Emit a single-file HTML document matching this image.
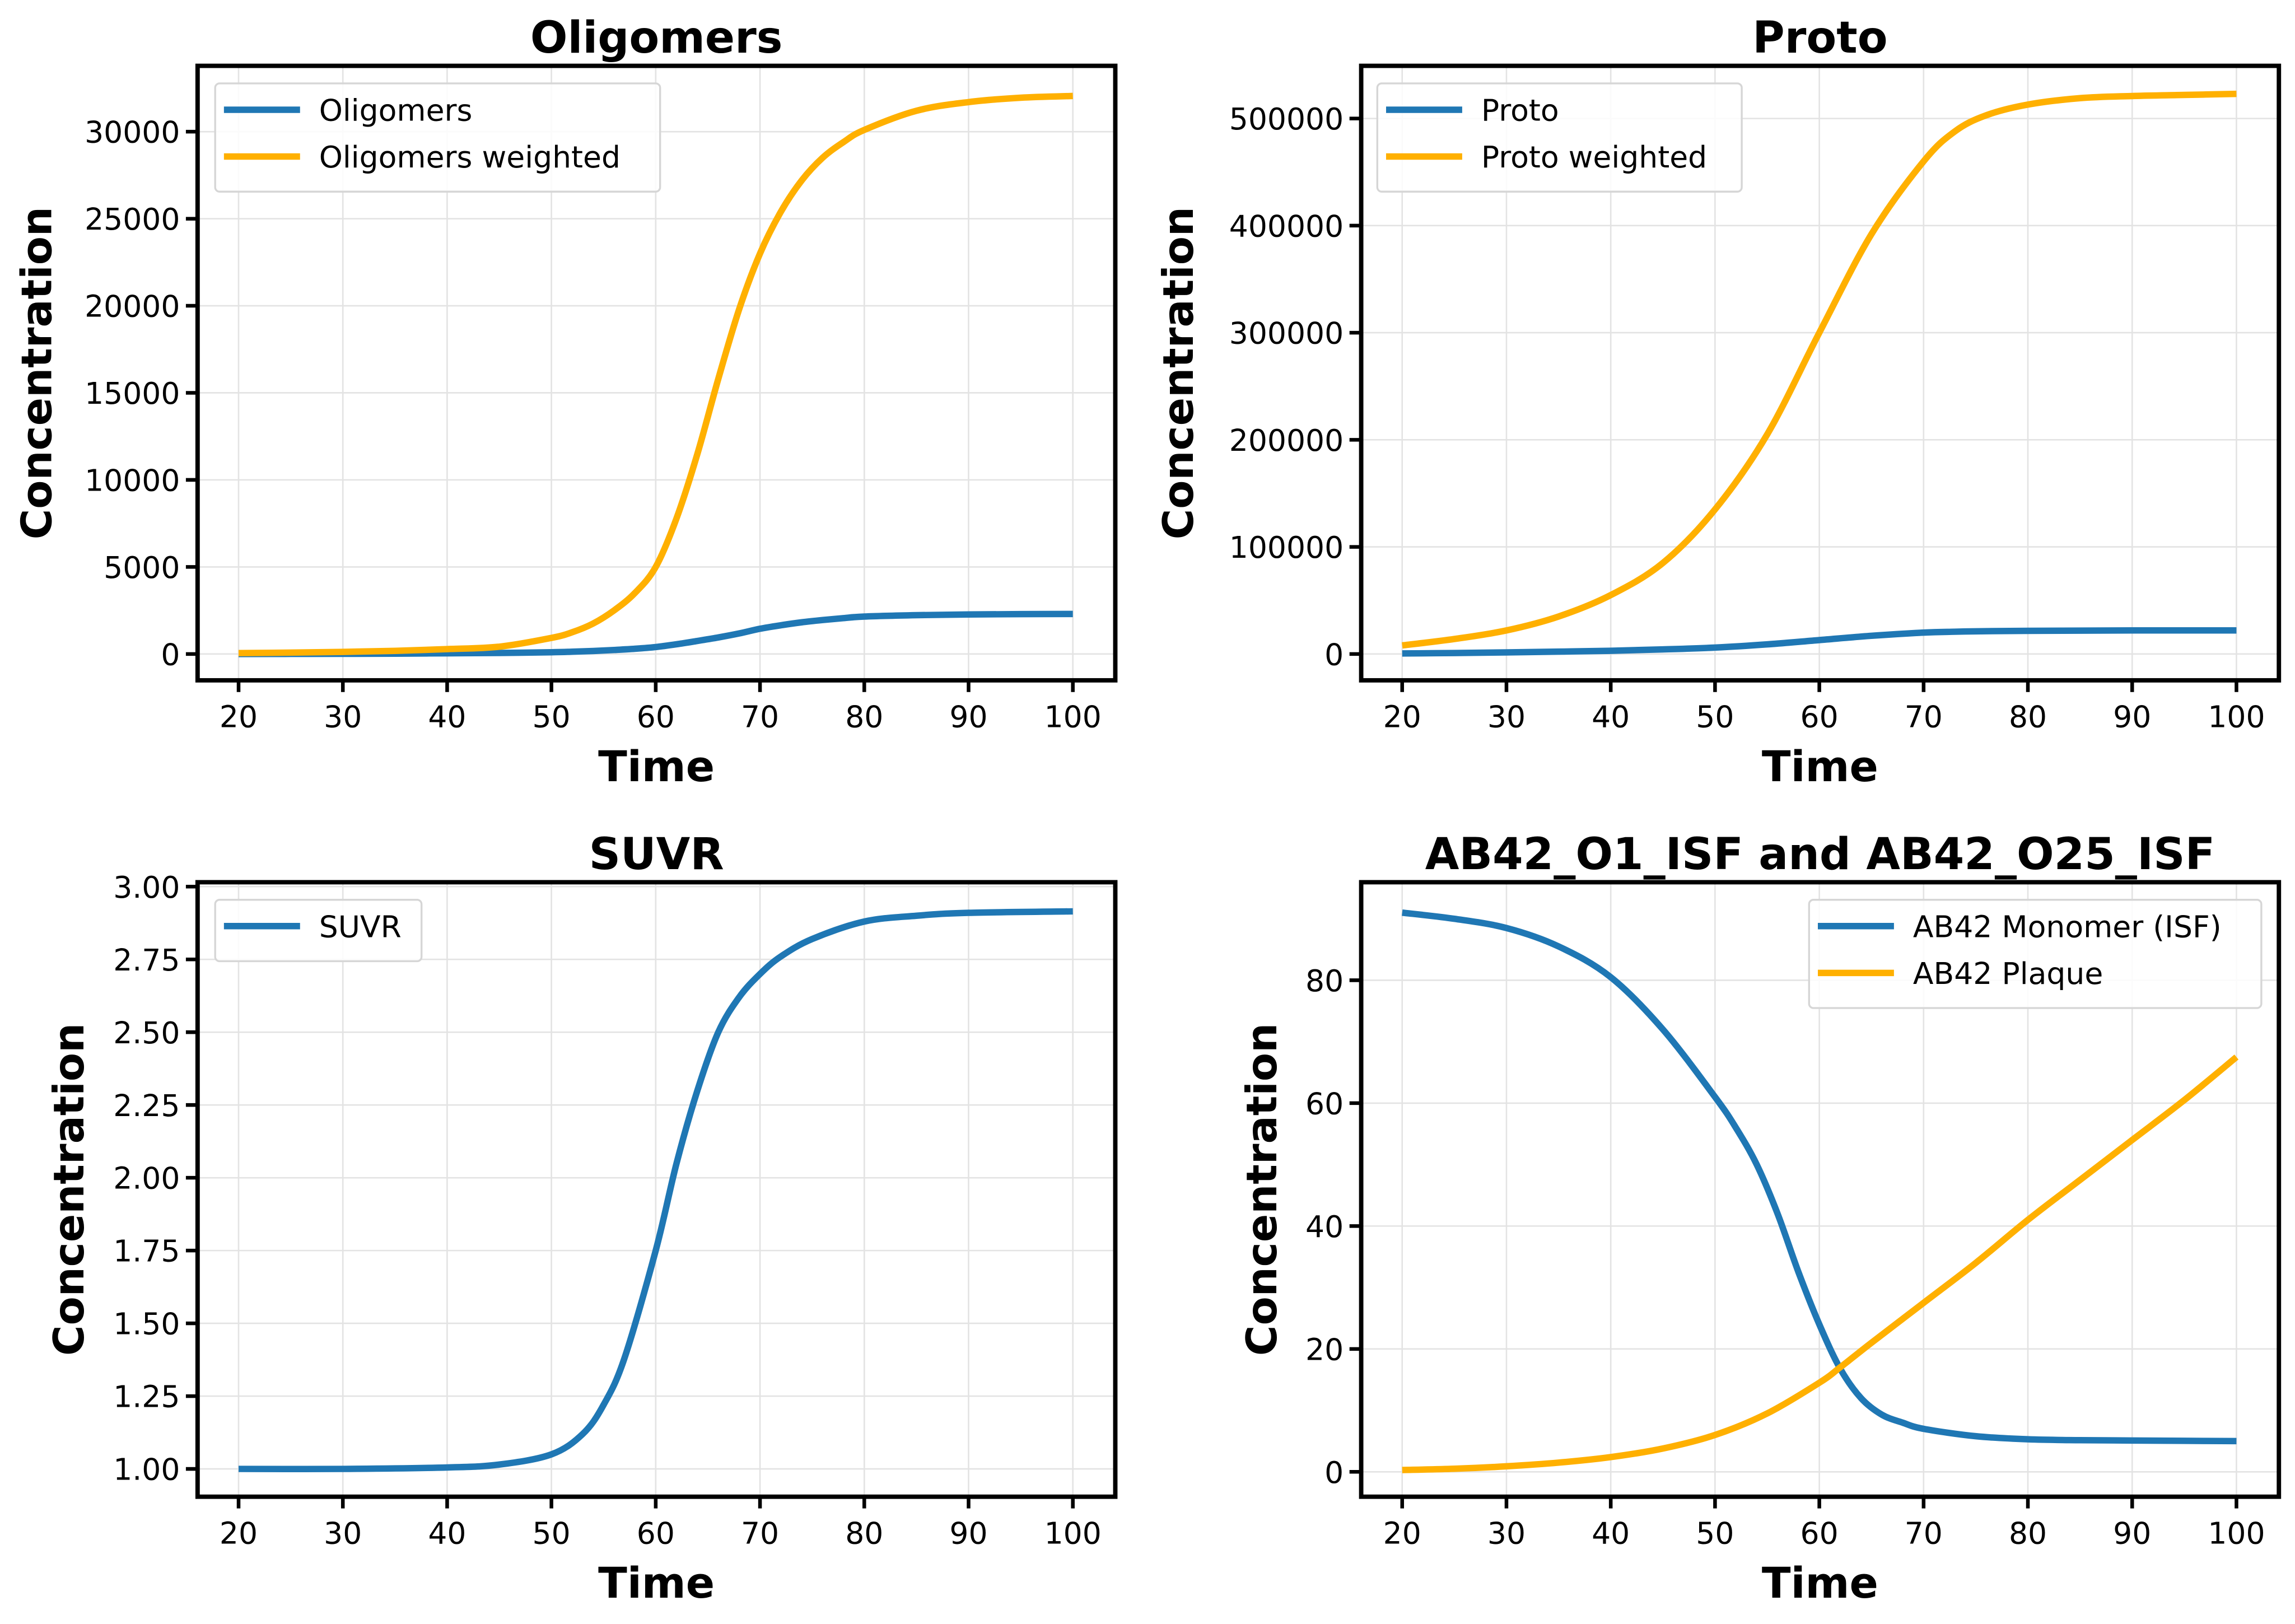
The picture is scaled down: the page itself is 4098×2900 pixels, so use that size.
<!DOCTYPE html>
<html><head><meta charset="utf-8"><style>
html,body{margin:0;padding:0;background:#fff;}
svg{display:block;}
text{font-family:"DejaVu Sans","Liberation Sans",sans-serif;}
</style></head><body>
<svg id="fig" width="4098" height="2900" viewBox="0 0 1568 1110" preserveAspectRatio="none" xmlns="http://www.w3.org/2000/svg"></svg>
<script>
// ---- data ----
const olT = [20,25,30,35,40,45,50,52,54,56,58,60,62,64,66,68,70,72,74,76,78,80,85,90,95,100];
const olW = [50,80,120,180,280,420,925,1250,1750,2500,3500,5000,7800,11500,15800,19800,23000,25400,27200,28500,29400,30100,31200,31700,31950,32050];
const olO = [0,5,10,20,40,60,100,130,170,230,300,400,560,750,950,1180,1450,1650,1820,1950,2060,2150,2230,2270,2290,2300];
const prT = [20,25,30,35,40,45,50,55,60,65,70,73,76,80,85,90,95,100];
const prW = [8000,14000,22000,35000,55000,85000,135000,205000,300000,392000,460000,488000,503000,513000,519000,521000,522000,523000];
const prP = [500,900,1500,2200,3000,4300,6000,9000,13000,17000,20000,20800,21300,21600,21800,22000,22000,22000];
const suT = [20,30,40,45,50,53,55,57,60,62,64,66,68,70,72,75,80,85,90,100];
const suV = [1.0,1.0,1.005,1.015,1.05,1.12,1.22,1.38,1.75,2.05,2.3,2.5,2.62,2.7,2.76,2.82,2.88,2.9,2.91,2.915];
const abT = [20,25,30,35,40,45,50,52,54,56,58,60,62,64,66,68,70,75,80,85,90,95,100];
const abM = [91,90,88.5,85.5,80.5,72,61,56,50,42,32.5,24,16.8,12,9.3,8,7,5.8,5.3,5.15,5.1,5.05,5.0];
const abPt = [20,25,30,35,40,45,50,55,60,62,65,70,75,80,85,90,95,100];
const abP = [0.3,0.5,0.9,1.5,2.4,3.8,6,9.5,14.5,17,21,27.5,34,41,47.5,54,60.5,67.5];
const xTicks = [20,30,40,50,60,70,80,90,100];
const olTicks = [0,5000,10000,15000,20000,25000,30000];
const prTicks = [0,100000,200000,300000,400000,500000];
const suTicks = [1.00,1.25,1.50,1.75,2.00,2.25,2.50,2.75,3.00];
const abTicks = [0,20,40,60,80];

const NS="http://www.w3.org/2000/svg";
const svg=document.getElementById('fig');
function el(tag,attrs,parent,txt){const e=document.createElementNS(NS,tag);for(const k in attrs)e.setAttribute(k,attrs[k]);if(txt!==undefined)e.textContent=txt;(parent||svg).appendChild(e);return e;}
function pathFrom(xs,ys){let d='';const n=xs.length;for(let i=0;i<n;i++){if(i===0){d+='M'+xs[0]+','+ys[0];continue;}
const x0=xs[Math.max(i-2,0)],y0=ys[Math.max(i-2,0)],x1=xs[i-1],y1=ys[i-1],x2=xs[i],y2=ys[i],x3=xs[Math.min(i+1,n-1)],y3=ys[Math.min(i+1,n-1)];
d+=' C'+(x1+(x2-x0)/6)+','+(y1+(y2-y0)/6)+' '+(x2-(x3-x1)/6)+','+(y2-(y3-y1)/6)+' '+x2+','+y2;}return d;}
const BLUE='#1f77b4',GOLD='#ffb000';
function panel(cfg){
  const g=el('g',{});
  
  
  const L=cfg.L,R=L+627,T=cfg.T,B=T+420;
  const x0=L+28,x1=L+598;
  const sx=t=>x0+(t-20)/80*(x1-x0);
  const sy=v=>cfg.y0px+(v-cfg.v0)/(cfg.v1-cfg.v0)*(cfg.y1px-cfg.y0px);
  xTicks.forEach(t=>{const l=el('line',{x1:sx(t),x2:sx(t),y1:T,y2:B,stroke:'#e3e3e3','stroke-width':1},g);});
  cfg.ticks.forEach(v=>{const l=el('line',{x1:L,x2:R,y1:sy(v),y2:sy(v),stroke:'#e3e3e3','stroke-width':1},g);});
  cfg.series.forEach(s=>{const p=el('path',{d:pathFrom(s.t.map(sx),s.v.map(sy)),fill:'none',stroke:s.c,'stroke-width':4.4,'stroke-linejoin':'round'},g);});
  const sp=el('rect',{x:L,y:T,width:627,height:420,fill:'none',stroke:'#000','stroke-width':3},g);
  
  xTicks.forEach(t=>{el('line',{x1:sx(t),x2:sx(t),y1:B,y2:B+8,stroke:'#000','stroke-width':2.5},g);
    const tx=el('text',{x:sx(t),y:B+32,'font-size':20.5,'text-anchor':'middle'},g,String(t));});
  cfg.ticks.forEach(v=>{el('line',{x1:L-8,x2:L,y1:sy(v),y2:sy(v),stroke:'#000','stroke-width':2.5},g);
    const tx=el('text',{x:L-12,y:sy(v)+7.5,'font-size':20.5,'text-anchor':'end'},g,cfg.fmt(v));});
  const ti=el('text',{x:(L+R)/2,y:T-9,'font-size':30,'font-weight':'bold','text-anchor':'middle'},g,cfg.title);
  const xl=el('text',{x:(L+R)/2,y:B+69,'font-size':29,'font-weight':'bold','text-anchor':'middle'},g,'Time');
  const yx=cfg.ylx,yy=(T+B)/2;
  const yl=el('text',{x:yx,y:yy,'font-size':28.5,'font-weight':'bold','text-anchor':'middle',transform:'rotate(-90 '+yx+' '+yy+')'},g,'Concentration');
  const lg=cfg.leg;
  const lgG=el('g',{},g);
  el('rect',{x:lg.x,y:lg.y,width:lg.w,height:10+cfg.series.length*32,rx:3,fill:'#fff','fill-opacity':0.85,stroke:'#d6d6d6','stroke-width':1.3},lgG);
  cfg.series.forEach((s,i)=>{const yy2=lg.y+18+i*32;
    el('line',{x1:lg.x+6,x2:lg.x+58,y1:yy2,y2:yy2,stroke:s.c,'stroke-width':4.4},lgG);
    const t=el('text',{x:lg.x+71,y:yy2+7.5,'font-size':20.5},lgG,s.label);});
}
panel({name:'oligomers-panel',L:135,T:45,title:'Oligomers',ylx:35,v0:0,v1:30000,y0px:447,y1px:90,ticks:olTicks,fmt:v=>String(v),
  series:[{t:olT,v:olO,c:BLUE,n:'oligomers-line',label:'Oligomers'},{t:olT,v:olW,c:GOLD,n:'oligomers-weighted-line',label:'Oligomers weighted'}],
  leg:{x:147,y:57,w:304}});
panel({name:'proto-panel',L:930,T:45,title:'Proto',ylx:815,v0:0,v1:500000,y0px:447,y1px:81,ticks:prTicks,fmt:v=>String(v),
  series:[{t:prT,v:prP,c:BLUE,n:'proto-line',label:'Proto'},{t:prT,v:prW,c:GOLD,n:'proto-weighted-line',label:'Proto weighted'}],
  leg:{x:941,y:57,w:249}});
panel({name:'suvr-panel',L:135,T:603,title:'SUVR',ylx:57,v0:1,v1:3,y0px:1004,y1px:606,ticks:suTicks,fmt:v=>v.toFixed(2),
  series:[{t:suT,v:suV,c:BLUE,n:'suvr-line',label:'SUVR'}],
  leg:{x:147,y:615,w:141}});
panel({name:'ab42-panel',L:930,T:603,title:'AB42_O1_ISF and AB42_O25_ISF',ylx:872,v0:0,v1:80,y0px:1006,y1px:670,ticks:abTicks,fmt:v=>String(v),
  series:[{t:abT,v:abM,c:BLUE,n:'ab42-monomer-line',label:'AB42 Monomer (ISF)'},{t:abPt,v:abP,c:GOLD,n:'ab42-plaque-line',label:'AB42 Plaque'}],
  leg:{x:1236,y:615,w:309}});
</script>
</body></html>
